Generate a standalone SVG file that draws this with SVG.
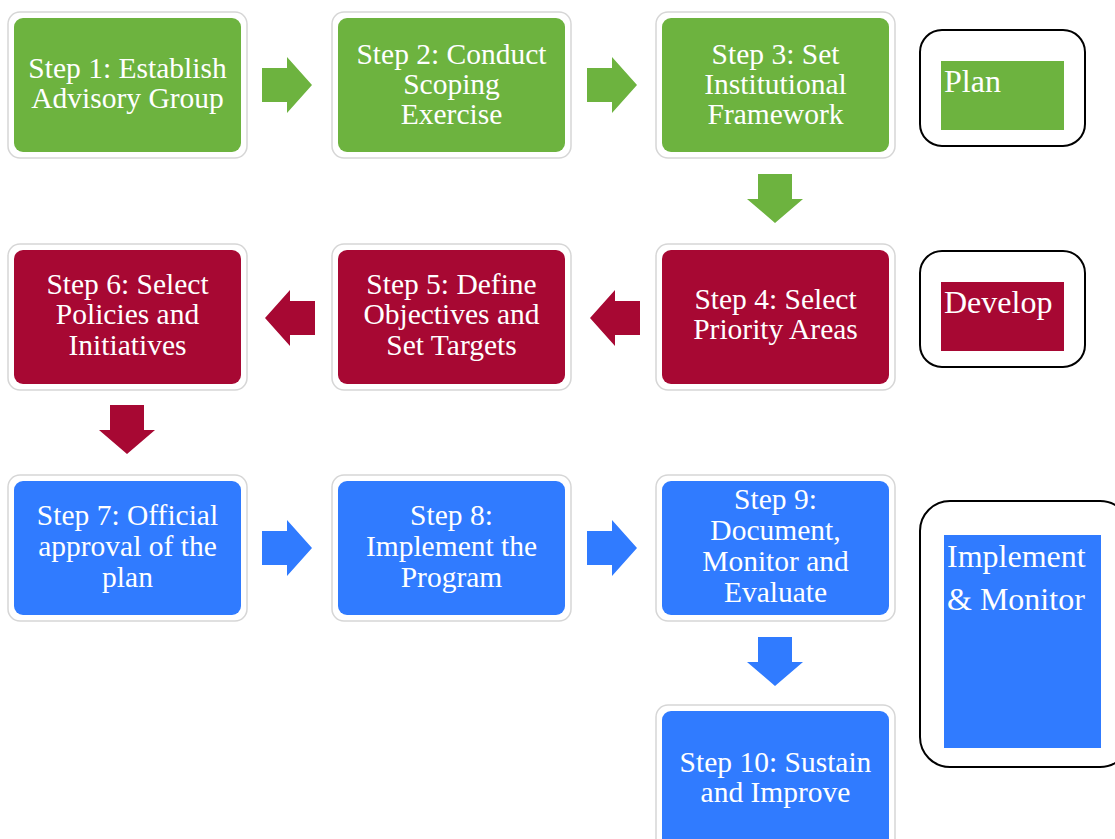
<svg xmlns="http://www.w3.org/2000/svg" width="1115" height="839" viewBox="0 0 1115 839">
<style>
.halo{fill:#fff;stroke:#d6d6d6;stroke-width:1.5}
.g{fill:#6db33f}.r{fill:#a70833}.b{fill:#307bff}
text{font-family:'Liberation Serif',serif;fill:#fff}
.t{font-size:29.5px;text-anchor:middle}
.tl{font-size:32px}
.frame{fill:#fff;stroke:#000;stroke-width:2}
</style>
<defs>
<path id="ar" d="M0,-17 H25 V-28 L50,0 L25,28 V17 H0 Z"/>
<path id="al" d="M0,-17 H-25 V-28 L-50,0 L-25,28 V17 H0 Z"/>
<path id="ad" d="M-17,0 V25 H-28 L0,49 L28,25 H17 V0 Z"/>
</defs>
<rect width="1115" height="839" fill="#fff"/>
<g id="connectors">
<use href="#ar" x="262" y="85" class="g"/>
<use href="#ar" x="587" y="85" class="g"/>
<use href="#ad" x="775" y="174" class="g"/>
<use href="#al" x="640" y="318" class="r"/>
<use href="#al" x="315" y="318" class="r"/>
<use href="#ad" x="127" y="405" class="r"/>
<use href="#ar" x="262" y="548" class="b"/>
<use href="#ar" x="587" y="548" class="b"/>
<use href="#ad" x="775" y="637" class="b"/>
</g>
<g id="step1"><rect class="halo" x="8" y="12" width="239" height="146" rx="12"/><rect class="g" x="14" y="18" width="227" height="134" rx="9"/>
<text class="t" x="127.5" y="78">Step 1: Establish</text><text class="t" x="127.5" y="108">Advisory Group</text></g>
<g id="step2"><rect class="halo" x="332" y="12" width="239" height="146" rx="12"/><rect class="g" x="338" y="18" width="227" height="134" rx="9"/>
<text class="t" x="451.5" y="64">Step 2: Conduct</text><text class="t" x="451.5" y="94">Scoping</text><text class="t" x="451.5" y="124">Exercise</text></g>
<g id="step3"><rect class="halo" x="656" y="12" width="239" height="146" rx="12"/><rect class="g" x="662" y="18" width="227" height="134" rx="9"/>
<text class="t" x="775.5" y="64">Step 3: Set</text><text class="t" x="775.5" y="94">Institutional</text><text class="t" x="775.5" y="124">Framework</text></g>
<g id="step4"><rect class="halo" x="656" y="244" width="239" height="146" rx="12"/><rect class="r" x="662" y="250" width="227" height="134" rx="9"/>
<text class="t" x="775.5" y="309">Step 4: Select</text><text class="t" x="775.5" y="339">Priority Areas</text></g>
<g id="step5"><rect class="halo" x="332" y="244" width="239" height="146" rx="12"/><rect class="r" x="338" y="250" width="227" height="134" rx="9"/>
<text class="t" x="451.5" y="294">Step 5: Define</text><text class="t" x="451.5" y="324">Objectives and</text><text class="t" x="451.5" y="355">Set Targets</text></g>
<g id="step6"><rect class="halo" x="8" y="244" width="239" height="146" rx="12"/><rect class="r" x="14" y="250" width="227" height="134" rx="9"/>
<text class="t" x="127.5" y="294">Step 6: Select</text><text class="t" x="127.5" y="324">Policies and</text><text class="t" x="127.5" y="355">Initiatives</text></g>
<g id="step7"><rect class="halo" x="8" y="475" width="239" height="146" rx="12"/><rect class="b" x="14" y="481" width="227" height="134" rx="9"/>
<text class="t" x="127.5" y="525">Step 7: Official</text><text class="t" x="127.5" y="556">approval of the</text><text class="t" x="127.5" y="587">plan</text></g>
<g id="step8"><rect class="halo" x="332" y="475" width="239" height="146" rx="12"/><rect class="b" x="338" y="481" width="227" height="134" rx="9"/>
<text class="t" x="451.5" y="525">Step 8:</text><text class="t" x="451.5" y="556">Implement the</text><text class="t" x="451.5" y="587">Program</text></g>
<g id="step9"><rect class="halo" x="656" y="475" width="239" height="146" rx="12"/><rect class="b" x="662" y="481" width="227" height="134" rx="9"/>
<text class="t" x="775.5" y="509">Step 9:</text><text class="t" x="775.5" y="540">Document,</text><text class="t" x="775.5" y="571">Monitor and</text><text class="t" x="775.5" y="602">Evaluate</text></g>
<g id="step10"><rect class="halo" x="656" y="705" width="239" height="146" rx="12"/><rect class="b" x="662" y="711" width="227" height="140" rx="9"/>
<text class="t" x="775.5" y="772">Step 10: Sustain</text><text class="t" x="775.5" y="802">and Improve</text></g>
<g id="plan"><rect class="frame" x="920" y="30" width="165" height="116" rx="22"/><rect class="g" x="941" y="61" width="123" height="69"/>
<text class="tl" x="944" y="92">Plan</text></g>
<g id="develop"><rect class="frame" x="920" y="251" width="165" height="116" rx="22"/><rect class="r" x="941" y="282" width="123" height="69"/>
<text class="tl" x="944" y="313">Develop</text></g>
<g id="implement"><rect class="frame" x="920" y="501" width="210" height="266" rx="30"/><rect class="b" x="944" y="535" width="157" height="213"/>
<text class="tl" x="947" y="567">Implement</text><text class="tl" x="947" y="610">&amp; Monitor</text></g>
</svg>
